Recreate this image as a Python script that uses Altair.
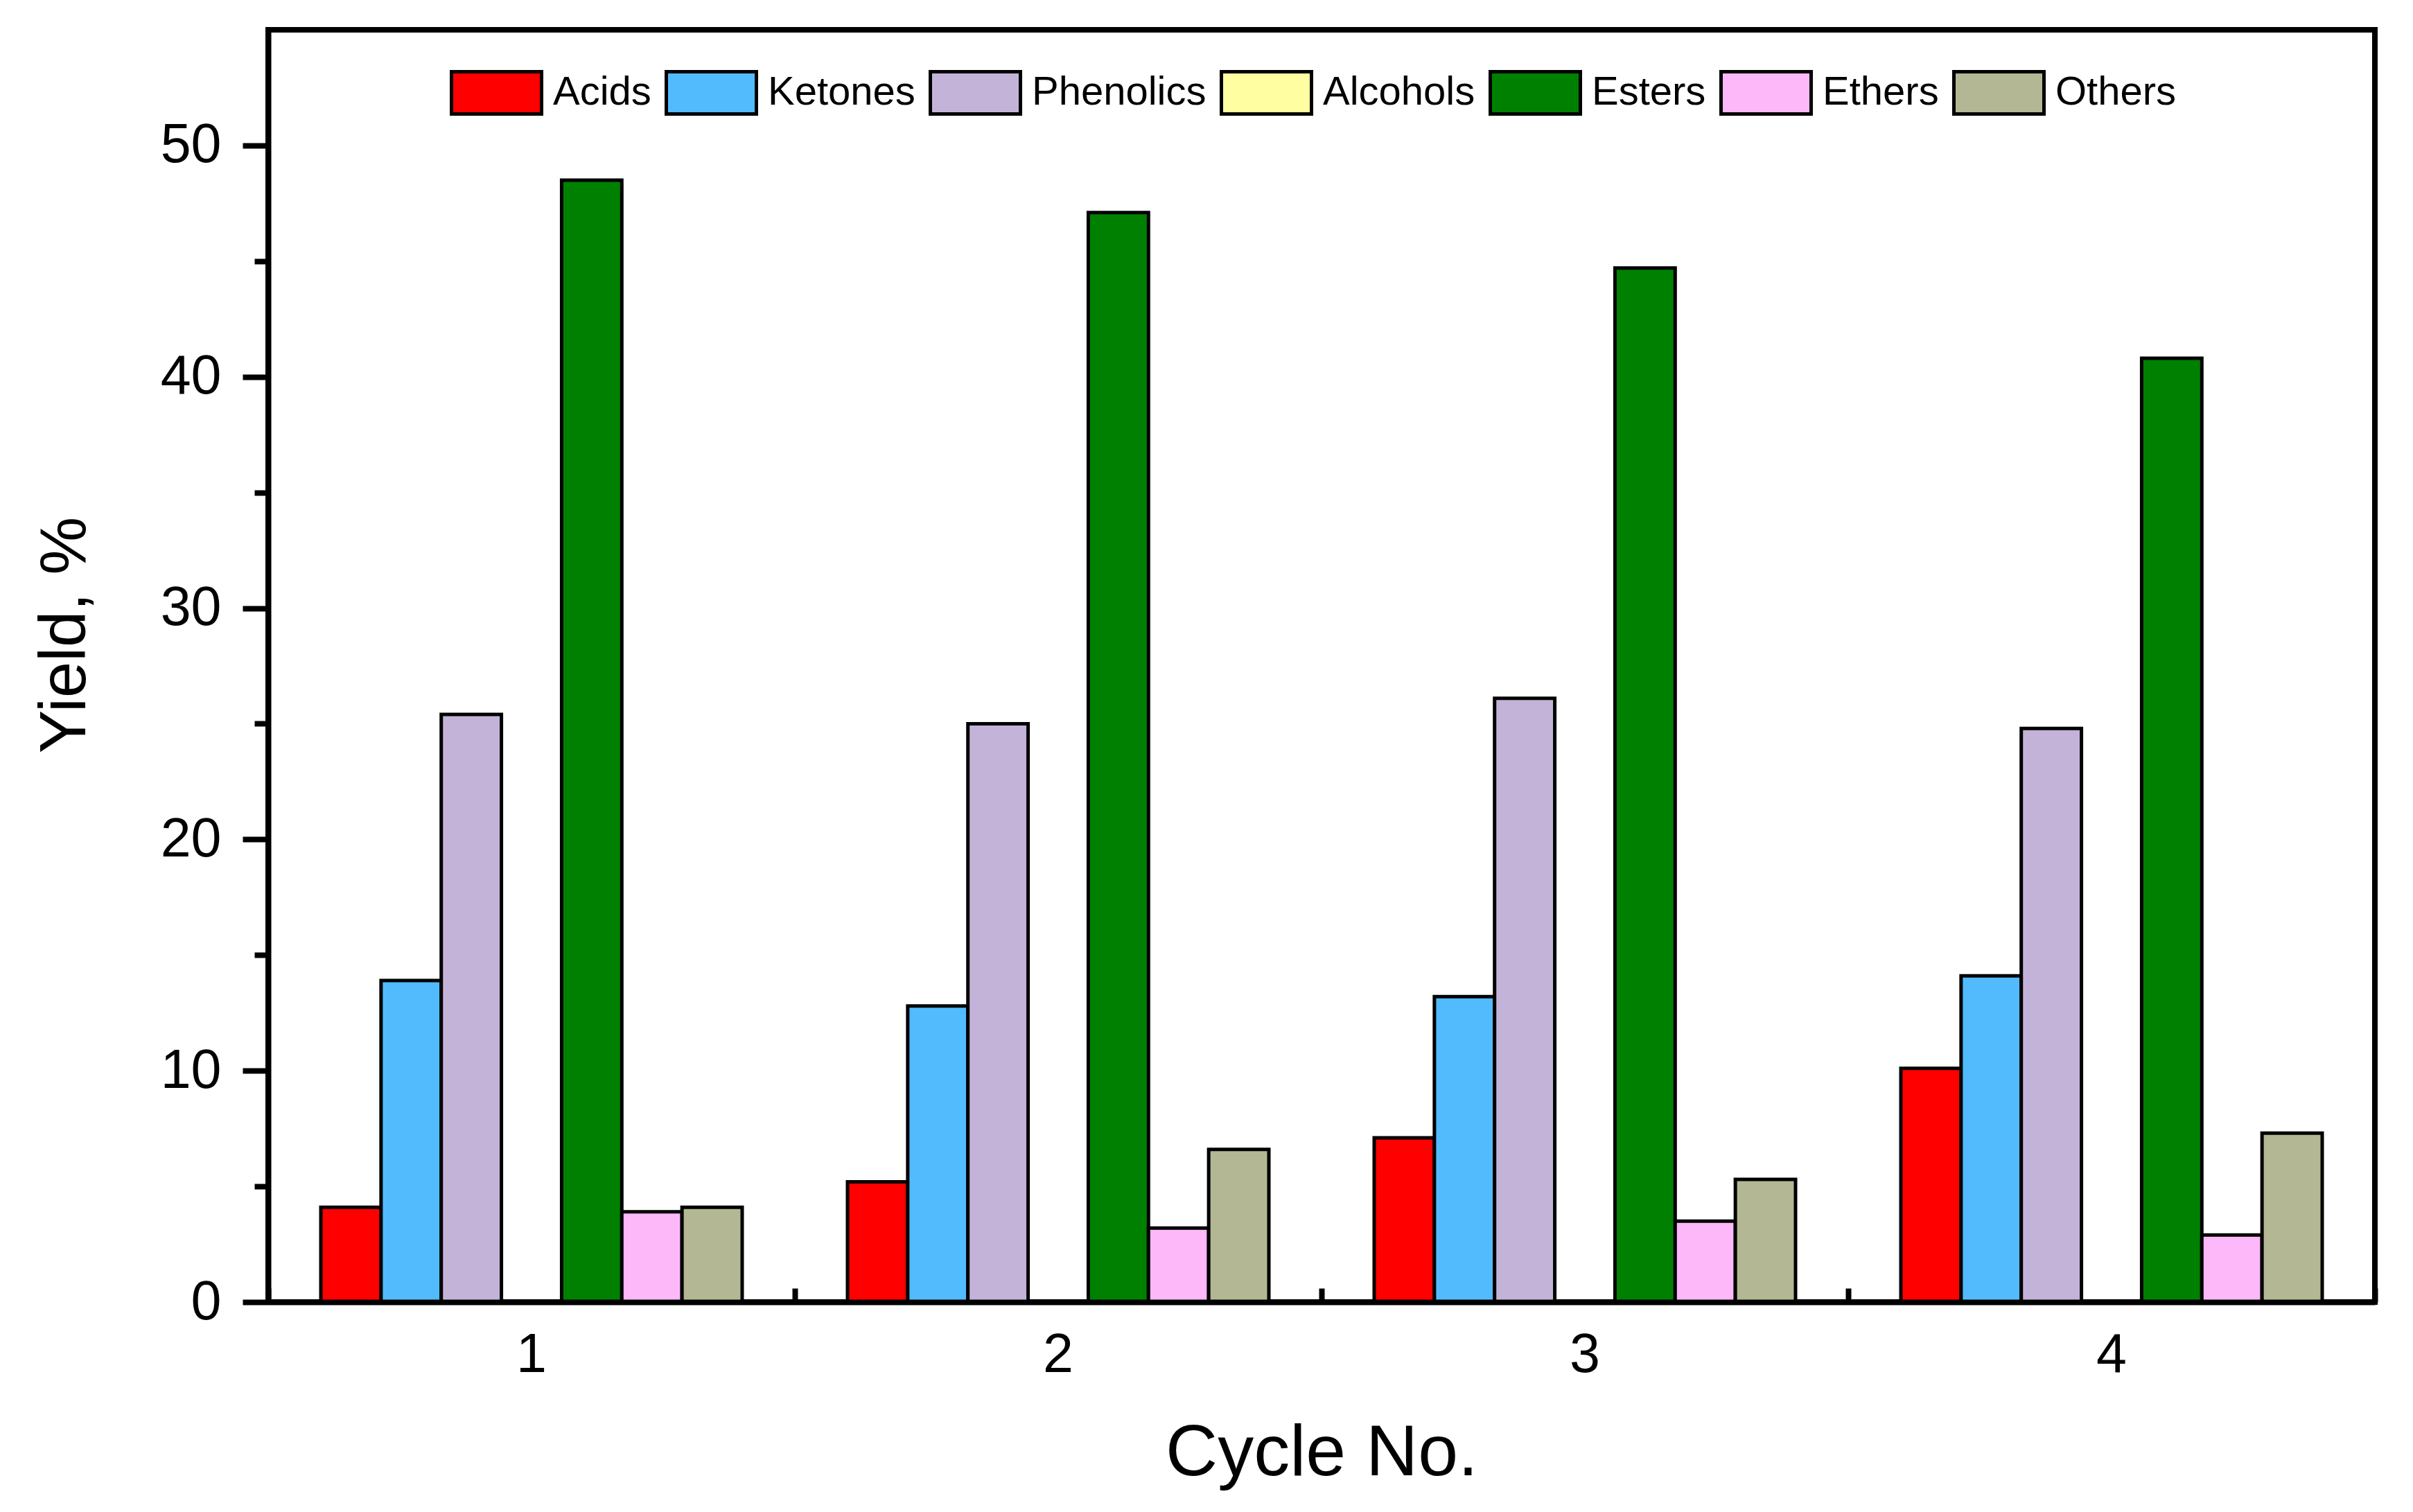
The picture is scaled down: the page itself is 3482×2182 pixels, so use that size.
import altair as alt
import pandas as pd

cycles = ["1", "2", "3", "4"]
products = ["Acids", "Ketones", "Phenolics", "Alcohols", "Esters", "Ethers", "Others"]
colors = ["#FF0000", "#51BBFE", "#C3B3D8", "#FFFFA2", "#008000", "#FCB8F9", "#B3B793"]

acids = [4.1, 5.2, 7.1, 10.1]
ketones = [13.9, 12.8, 13.2, 14.1]
phenolics = [25.4, 25.0, 26.1, 24.8]
alcohols = [0.0, 0.0, 0.0, 0.0]
esters = [48.5, 47.1, 44.7, 40.8]
ethers = [3.9, 3.2, 3.5, 2.9]
others = [4.1, 6.6, 5.3, 7.3]

y_ticks = [0, 5, 10, 15, 20, 25, 30, 35, 40, 45, 50]

series = [acids, ketones, phenolics, alcohols, esters, ethers, others]
rows = []
for prod, vals in zip(products, series):
    for c, v in zip(cycles, vals):
        rows.append({"Cycle": c, "Product": prod, "Yield": v})
df = pd.DataFrame(rows)

FONT = "Liberation Sans, Arial, sans-serif"
W, H = 3040, 1836

y_axis = alt.Axis(
    values=y_ticks,
    labelExpr="datum.value % 10 === 0 ? datum.label : ''",
    tickSize={"condition": {"test": "datum.value % 10 === 0", "value": 37}, "value": 20},
    tickWidth=8,
    tickColor="black",
    labelFontSize=79,
    labelFont=FONT,
    labelColor="black",
    labelPadding=31,
    domain=True,
    domainWidth=8,
    domainColor="black",
    grid=False,
    title="Yield, %",
    titleFont=FONT,
    titleFontSize=94,
    titleFontWeight="normal",
    titleColor="black",
    titleX=-265,
    titleY=873,
    titleBaseline="alphabetic",
    zindex=1,
)

legend = alt.Legend(
    orient="none",
    legendX=262,
    legendY=23,
    direction="horizontal",
    title=None,
    symbolType="M-1,-0.47H1V0.47H-1Z",
    symbolSize=16900,
    symbolStrokeColor="black",
    symbolStrokeWidth=5,
    symbolOpacity=1,
    labelFontSize=58,
    labelFont=FONT,
    labelColor="black",
    labelOffset=14,
    columnPadding=11,
    labelLimit=1000,
    padding=0,
)

def base(x_axis):
    return alt.Chart(df).encode(
        x=alt.X("Cycle:N", sort=cycles,
                scale=alt.Scale(paddingInner=0, paddingOuter=0), axis=x_axis),
        xOffset=alt.XOffset("Product:N", sort=products,
                            scale=alt.Scale(domain=products, paddingInner=0, paddingOuter=0.875)),
        y=alt.Y("Yield:Q", scale=alt.Scale(domain=[0, 55], nice=False), axis=y_axis),
        color=alt.Color("Product:N", sort=products,
                        scale=alt.Scale(domain=products, range=colors), legend=legend),
    )

bottom_axis = alt.Axis(
    orient="bottom",
    ticks=False,
    tickSize=0,
    labelAngle=0,
    labelFontSize=79,
    labelFont=FONT,
    labelColor="black",
    labelPadding=38,
    domain=True,
    domainWidth=8,
    domainColor="black",
    title="Cycle No.",
    titleFont=FONT,
    titleFontSize=104,
    titleFontWeight="normal",
    titleColor="black",
    titleY=249,
    titleBaseline="alphabetic",
    zindex=1,
)

inner_tick_axis = alt.Axis(
    orient="top",
    offset=-H,
    tickBand="extent",
    ticks=True,
    tickSize=20,
    tickWidth=8,
    tickColor="black",
    labels=False,
    domain=False,
    title=None,
    zindex=1,
)

bars = base(bottom_axis).mark_bar(stroke="black", strokeWidth=5, opacity=1)
ghost = base(inner_tick_axis).mark_bar(opacity=0)

chart = alt.layer(bars, ghost).resolve_axis(x="independent").properties(
    width=W,
    height=H,
    autosize=alt.AutoSizeParams(type="none"),
    padding={"left": 379, "top": 35, "right": 40, "bottom": 290},
    background="white",
).configure_view(stroke="black", strokeWidth=8)

chart.save("out.html", embed_options={"renderer": "svg", "actions": False})
